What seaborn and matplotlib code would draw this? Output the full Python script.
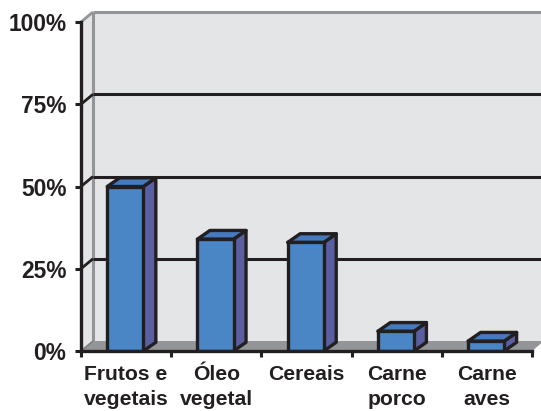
import matplotlib
matplotlib.use("Agg")
import matplotlib.pyplot as plt
from matplotlib.patches import Polygon
import pandas as pd
import seaborn as sns

categories = ["Frutos e\nvegetais", "Óleo\nvegetal", "Cereais", "Carne\nporco", "Carne\naves"]
values = [50, 34, 33, 6, 3]
y_ticks = [0, 25, 50, 75, 100]
y_labels = ["0%", "25%", "50%", "75%", "100%"]

DARK = "#231F20"
GRAY = "#939598"
WALL = "#E4E5E7"
FRONT = "#4A86C6"
SIDE = "#5A5FA2"
TOP = "#4679BD"

W, H = 541, 411
sns.set_theme(style="white")
plt.rcParams["font.family"] = ["Liberation Sans", "DejaVu Sans"]

fig = plt.figure(figsize=(W / 100, H / 100), dpi=100, facecolor="white")
ax = fig.add_axes([81 / W, 1 - 351 / H, (532 - 81) / W, (351 - 22) / H])
ax.set_facecolor("none")

df = pd.DataFrame({"cat": categories, "val": values})
sns.barplot(data=df, x="cat", y="val", color=FRONT, saturation=1, width=0.4, ax=ax,
            edgecolor=DARK, linewidth=2.4, zorder=5)
ax.set_xlim(-0.5, 4.5)
ax.set_ylim(0, 100)

# depth of the pseudo-3D box, in data units
wx = 12 / 90.2
wy = 10 / 3.29
bx = 12.5 / 90.2
by = 8.7 / 3.29
x0, x1 = -0.5, 4.5

def poly(pts, fc, ec="none", lw=0, z=1):
    ax.add_patch(Polygon(pts, closed=True, facecolor=fc, edgecolor=ec, linewidth=lw,
                         zorder=z, clip_on=False, joinstyle="round"))

def line(xs, ys, c, lw, z=2):
    ax.plot(xs, ys, color=c, lw=lw, zorder=z, clip_on=False, solid_capstyle="butt")

# back wall, side wall and floor
poly([(x0 + wx, wy), (x1 + wx, wy), (x1 + wx, 100 + wy), (x0 + wx, 100 + wy)], WALL)
poly([(x0, 0), (x0 + wx, wy), (x0 + wx, 100 + wy), (x0, 100)], WALL)
poly([(x0, 0), (x0 + wx, wy), (x1 + wx, wy), (x1, 0)], GRAY)
line([x0 + wx, x0 + wx], [wy, 100 + wy], GRAY, 2.2)
line([x0 + wx, x1 + wx], [100 + wy] * 2, GRAY, 2.2)
line([x0, x0 + wx], [100, 100 + wy], GRAY, 2.0)
line([x0, x0 + wx], [0, wy], "#7d7f82", 1.2)

# grid lines on back wall and side wall
for t in y_ticks[1:4]:
    line([x0 + wx, x1 + wx], [t + wy] * 2, DARK, 2.2, z=2)
    line([x0, x0 + wx], [t, t + wy], DARK, 2.0, z=2)

# bar depth faces
for patch, v in zip(ax.patches[:len(values)], values):
    patch.set_x(patch.get_x() - 0.009)
    l = patch.get_x()
    r = l + patch.get_width()
    poly([(r, 0), (r + bx, by), (r + bx, v + by), (r, v)], SIDE, DARK, 2.4, z=4)
    poly([(l, v), (l + bx, v + by), (r + bx, v + by), (r, v)], TOP, DARK, 2.4, z=4)

# axes, ticks, labels
for s in ["top", "right"]:
    ax.spines[s].set_visible(False)
for s in ["left", "bottom"]:
    ax.spines[s].set_color(DARK)
    ax.spines[s].set_linewidth(2.4)
    ax.spines[s].set_zorder(6)

ax.set_xlabel("")
ax.set_ylabel("")
ax.set_yticks(y_ticks, y_labels)
ax.set_xticks(range(len(categories)), categories)
ax.set_xticks([i - 0.5 for i in range(len(categories) + 1)], minor=True)
ax.tick_params(axis="y", length=4.5, width=2.2, color=DARK, pad=6, labelsize=16.4, labelcolor=DARK, left=True)
ax.tick_params(axis="x", which="minor", length=4.5, width=2.2, color=DARK, bottom=True)
ax.tick_params(axis="x", which="major", length=0, pad=10, labelsize=15.2, labelcolor=DARK)
for t in ax.get_xticklabels() + ax.get_yticklabels():
    t.set_fontweight("bold")
    t.set_linespacing(1.42)

fig.savefig("out.png", dpi=100)
